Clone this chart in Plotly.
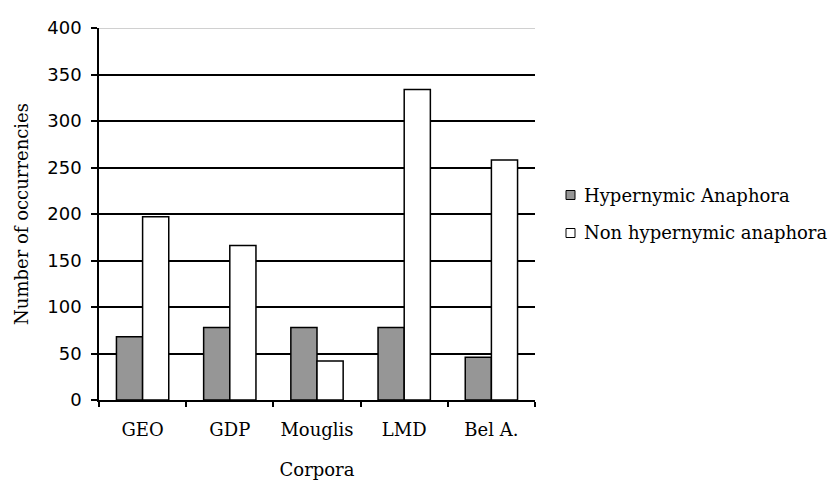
import plotly.graph_objects as go

categories = ["GEO", "GDP", "Mouglis", "LMD", "Bel A."]
hypernymic = [68, 78, 78, 78, 46]
non_hypernymic = [197, 166, 42, 334, 258]
y_ticks = [0, 50, 100, 150, 200, 250, 300, 350, 400]
series_names = ["Hypernymic Anaphora", "Non hypernymic anaphora"]
series_colors = ["#969696", "white"]

serif = "DejaVu Serif"
sans = "DejaVu Sans"

fig = go.Figure()
for name, vals, col in zip(series_names, [hypernymic, non_hypernymic], series_colors):
    fig.add_trace(go.Bar(x=categories, y=vals, name=name,
                         marker=dict(color=col, line=dict(color="black", width=1.5))))

W, H = 838, 485
L, R, T, B = 91, 311, 20, 93
fig.update_layout(
    width=W, height=H,
    margin=dict(l=L, r=R, t=T, b=B, autoexpand=False),
    paper_bgcolor="white", plot_bgcolor="white",
    barmode="group", bargap=0.4, bargroupgap=0,
    showlegend=False,
    xaxis=dict(type="category", showline=True, linecolor="black", linewidth=1.5,
               ticks="outside", tickson="boundaries", ticklen=5, tickcolor="black", tickwidth=1.5,
               tickfont=dict(family=serif, size=18, color="black"), ticklabelstandoff=13,
               title=dict(text="Corpora", font=dict(family=serif, size=18, color="black"), standoff=24)),
    yaxis=dict(range=[0, 400], tickvals=y_ticks, showline=True, linecolor="black", linewidth=1.5,
               ticks="outside", ticklen=6, tickcolor="black", tickwidth=1.5,
               showgrid=True, gridcolor="black", gridwidth=1.5, zeroline=False,
               tickfont=dict(family=sans, size=18, color="black"), ticklabelstandoff=6,
               title=dict(text="Number of occurrencies", font=dict(family=serif, size=18, color="black"), standoff=14)),
)
fig.add_shape(type="line", xref="paper", yref="y", x0=0, x1=1, y0=400, y1=400,
              line=dict(color="#d0d0d0", width=2), layer="above")

# manual legend (pixel positions converted to paper coords)
pw = W - L - R
ph = H - T - B
def px(x):
    return (x - 8 - L) / pw
def py(y):
    return 1 - (y - 8 - T) / ph

for i, (name, col) in enumerate(zip(series_names, series_colors)):
    cy = 195 + i * 38
    fig.add_shape(type="rect", xref="paper", yref="paper",
                  x0=px(566), x1=px(575), y0=py(cy - 4.5), y1=py(cy + 4.5),
                  line=dict(color="black", width=1), fillcolor=col)
    fig.add_annotation(xref="paper", yref="paper", x=px(582), y=py(cy), xanchor="left",
                       yanchor="middle", showarrow=False, text=name,
                       font=dict(family=serif, size=18, color="black"))

fig.write_html("out.html")
